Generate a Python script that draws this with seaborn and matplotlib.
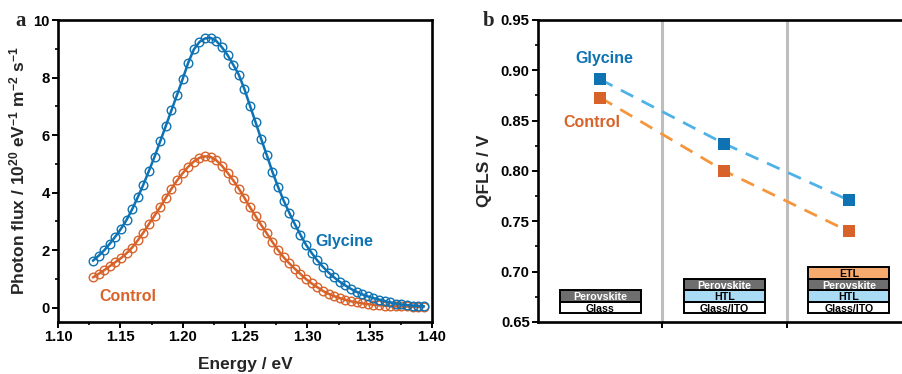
import numpy as np
import pandas as pd
import matplotlib
matplotlib.use("Agg")
import matplotlib.pyplot as plt
from matplotlib.patches import Rectangle
from matplotlib.ticker import MultipleLocator, FixedLocator, NullFormatter
import seaborn as sns

# ---------------- data ----------------
energy = [1.1280, 1.1325, 1.1370, 1.1415, 1.1460, 1.1505, 1.1550, 1.1595, 1.1640, 1.1685,
          1.1730, 1.1775, 1.1820, 1.1865, 1.1910, 1.1955, 1.2000, 1.2045, 1.2090, 1.2135,
          1.2180, 1.2225, 1.2270, 1.2315, 1.2360, 1.2405, 1.2450, 1.2495, 1.2540, 1.2585,
          1.2630, 1.2675, 1.2720, 1.2765, 1.2810, 1.2855, 1.2900, 1.2945, 1.2990, 1.3035,
          1.3080, 1.3125, 1.3170, 1.3215, 1.3260, 1.3305, 1.3350, 1.3395, 1.3440, 1.3485,
          1.3530, 1.3575, 1.3620, 1.3665, 1.3710, 1.3755, 1.3800, 1.3845, 1.3890, 1.3935]

glycine_flux = [1.63, 1.80, 1.99, 2.22, 2.47, 2.74, 3.05, 3.42, 3.84, 4.28,
                4.76, 5.25, 5.78, 6.32, 6.86, 7.40, 7.95, 8.52, 8.98, 9.24,
                9.36, 9.38, 9.27, 9.05, 8.78, 8.45, 8.10, 7.60, 7.02, 6.44,
                5.86, 5.30, 4.72, 4.20, 3.72, 3.30, 2.90, 2.53, 2.18, 1.90,
                1.64, 1.42, 1.22, 1.05, 0.90, 0.77, 0.65, 0.55, 0.46, 0.39,
                0.33, 0.28, 0.23, 0.18, 0.14, 0.11, 0.09, 0.07, 0.06, 0.05]

control_flux = [1.05, 1.17, 1.30, 1.44, 1.58, 1.72, 1.89, 2.09, 2.34, 2.61,
                2.91, 3.20, 3.50, 3.82, 4.13, 4.42, 4.67, 4.90, 5.08, 5.21,
                5.26, 5.24, 5.12, 4.93, 4.69, 4.43, 4.14, 3.82, 3.49, 3.18,
                2.87, 2.58, 2.28, 2.00, 1.75, 1.54, 1.35, 1.17, 0.99, 0.84,
                0.71, 0.58, 0.48, 0.40, 0.33, 0.27, 0.22, 0.18, 0.15, 0.12,
                0.10, 0.08, 0.07, 0.06, 0.05, 0.04, 0.04, 0.03, 0.03, 0.03]

stage = [1, 2, 3]
glycine_qfls = [0.891, 0.827, 0.771]
control_qfls = [0.873, 0.800, 0.740]

# layer stacks drawn under each stage (bottom to top)
stacks = [
    ["Glass", "Perovskite"],
    ["Glass/ITO", "HTL", "Perovskite"],
    ["Glass/ITO", "HTL", "Perovskite", "ETL"],
]

# ---------------- style ----------------
sns.set_theme(style="ticks")
plt.rcParams["font.family"] = ["Liberation Sans", "DejaVu Sans"]
plt.rcParams["font.weight"] = "bold"
plt.rcParams["axes.labelweight"] = "bold"
plt.rcParams["mathtext.fontset"] = "custom"
plt.rcParams["mathtext.rm"] = "Liberation Sans:bold"
plt.rcParams["mathtext.bf"] = "Liberation Sans:bold"
plt.rcParams["mathtext.default"] = "rm"

BLUE = "#0E72B3"
ORANGE = "#D8632A"
BLUE_DASH = "#4FB2E6"
ORANGE_DASH = "#F5963C"

layer_colors = {
    "Glass": ("#FFFFFF", "black"),
    "Glass/ITO": ("#FFFFFF", "black"),
    "HTL": ("#A9DBF5", "black"),
    "Perovskite": ("#6E6E6E", "white"),
    "ETL": ("#F7AA6E", "black"),
}

W, H = 903, 374
fig = plt.figure(figsize=(W / 100, H / 100), dpi=100)

ax_a = fig.add_axes([58 / W, (H - 322) / H, 374 / W, 302 / H])
ax_b = fig.add_axes([538 / W, (H - 322) / H, 373 / W, 302 / H])


def style_axes(ax):
    for s in ax.spines.values():
        s.set_linewidth(1.9)
        s.set_color("black")
    ax.tick_params(which="major", direction="out", length=4, width=1.4,
                   labelsize=10.7, color="black", labelcolor="black", pad=2)
    ax.tick_params(which="minor", direction="out", length=2.5, width=1.2, color="black")
    for lab in ax.get_xticklabels() + ax.get_yticklabels():
        lab.set_fontweight("bold")


# ---------------- panel a ----------------
df_a = pd.DataFrame({"energy": energy * 2,
                     "flux": glycine_flux + control_flux,
                     "sample": ["Glycine"] * len(energy) + ["Control"] * len(energy)})

for name, col in [("Control", ORANGE), ("Glycine", BLUE)]:
    sub = df_a[df_a["sample"] == name]
    sns.lineplot(data=sub, x="energy", y="flux", ax=ax_a, color=col, lw=1.8,
                 marker="o", markersize=6.2, markerfacecolor="none",
                 markeredgecolor=col, markeredgewidth=1.0, sort=False)

ax_a.set_xlim(1.10, 1.40)
ax_a.set_ylim(-0.5, 10)
ax_a.xaxis.set_major_locator(MultipleLocator(0.05))
ax_a.xaxis.set_minor_locator(MultipleLocator(0.025))
ax_a.yaxis.set_major_locator(MultipleLocator(2))
ax_a.yaxis.set_minor_locator(MultipleLocator(1))
ax_a.xaxis.set_major_formatter(matplotlib.ticker.FormatStrFormatter("%.2f"))
ax_a.set_xlabel("Energy / eV", fontsize=12.5, fontweight="bold", labelpad=9)
ax_a.set_ylabel(r"Photon flux / 10$^{20}$ eV$^{-1}$ m$^{-2}$ s$^{-1}$",
                fontsize=12.5, fontweight="bold", labelpad=4)
style_axes(ax_a)

ax_a.text(1.3062, 2.30, "Glycine", color=BLUE, fontsize=11.5, fontweight="bold",
          ha="left", va="center")
ax_a.text(1.133, 0.40, "Control", color=ORANGE, fontsize=11.5, fontweight="bold",
          ha="left", va="center")

fig.text(15 / W, 1 - 21 / H, "a", fontsize=15, fontweight="bold",
         family=["Liberation Serif", "DejaVu Serif"], ha="left", va="center")

# ---------------- panel b ----------------
for xv in (1.5, 2.5):
    ax_b.axvline(xv, color="#BEBEBE", lw=2.2, zorder=1)

df_b = pd.DataFrame({"stage": stage * 2,
                     "qfls": glycine_qfls + control_qfls,
                     "sample": ["Glycine"] * 3 + ["Control"] * 3})

for name, dash_col, mark_col in [("Glycine", BLUE_DASH, BLUE), ("Control", ORANGE_DASH, ORANGE)]:
    sub = df_b[df_b["sample"] == name]
    sns.lineplot(data=sub, x="stage", y="qfls", ax=ax_b, color=dash_col, lw=2.0,
                 linestyle=(0, (5, 3.4)), zorder=2)
    sns.scatterplot(data=sub, x="stage", y="qfls", ax=ax_b, color=mark_col,
                    marker="s", s=80, linewidth=0, zorder=3)

ax_b.set_xlim(0.5, 3.5)
ax_b.set_ylim(0.65, 0.95)
ax_b.yaxis.set_major_locator(MultipleLocator(0.05))
ax_b.yaxis.set_minor_locator(MultipleLocator(0.025))
ax_b.yaxis.set_major_formatter(matplotlib.ticker.FormatStrFormatter("%.2f"))
ax_b.xaxis.set_major_locator(FixedLocator([1.5, 2.5]))
ax_b.xaxis.set_major_formatter(NullFormatter())
ax_b.set_xlabel("")
ax_b.set_ylabel("QFLS / V", fontsize=12.5, fontweight="bold", labelpad=6)
style_axes(ax_b)

# device stacks
layer_h = 0.0114
box_w = 0.65
y0 = 0.6587
for xc, layers in zip(stage, stacks):
    for i, name in enumerate(layers):
        fc, tc = layer_colors[name]
        yb = y0 + i * layer_h
        ax_b.add_patch(Rectangle((xc - box_w / 2, yb), box_w, layer_h,
                                 facecolor=fc, edgecolor="black", lw=1.4, zorder=4))
        ax_b.text(xc, yb + layer_h / 2, name, color=tc, fontsize=7.7,
                  fontweight="bold", ha="center", va="center_baseline", zorder=5)

ax_b.text(1.03, 0.9115, "Glycine", color=BLUE, fontsize=11.5, fontweight="bold",
          ha="center", va="center")
ax_b.text(0.93, 0.8485, "Control", color=ORANGE, fontsize=11.5, fontweight="bold",
          ha="center", va="center")

fig.text(483 / W, 1 - 21 / H, "b", fontsize=15, fontweight="bold",
         family=["Liberation Serif", "DejaVu Serif"], ha="left", va="center")

fig.savefig("out.png", dpi=100)
